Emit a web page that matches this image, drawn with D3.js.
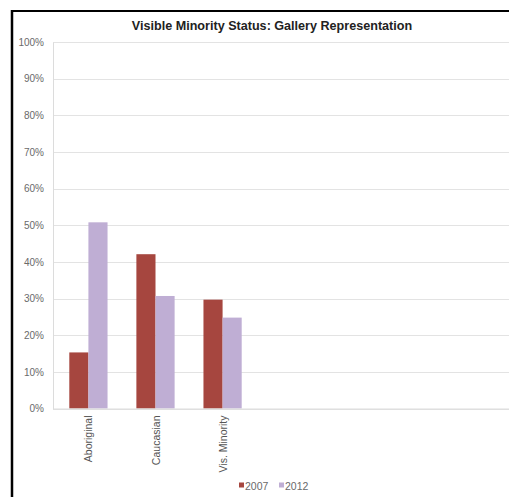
<!DOCTYPE html>
<html>
<head>
<meta charset="utf-8">
<script src="https://cdn.jsdelivr.net/npm/d3@7"></script>
<style>
  html, body { margin: 0; padding: 0; background: #fff; }
  svg { display: block; }
  text { font-family: "Liberation Sans", Arial, Helvetica, sans-serif; }
</style>
</head>
<body>
<div id="chart"></div>
<script>
const categories = ["Aboriginal", "Caucasian", "Vis. Minority"];
const seriesNames = ["2007", "2012"];
const values2007 = [15.3, 42.1, 29.7];
const values2012 = [50.8, 30.7, 24.8];
const yTicks = [0, 10, 20, 30, 40, 50, 60, 70, 80, 90, 100];
const title = "Visible Minority Status: Gallery Representation";
const colors = ["#a6463f", "#bfaed4"];

const W = 509, H = 497;
const svg = d3.select("#chart").append("svg").attr("width", W).attr("height", H);

// frame
svg.append("rect").attr("x", 0).attr("y", 0).attr("width", W).attr("height", H).attr("fill", "#fff");
svg.append("line").attr("x1", 12).attr("x2", 12).attr("y1", 10).attr("y2", H)
  .attr("stroke", "#000").attr("stroke-width", 2.5);
svg.append("line").attr("x1", 11).attr("x2", W).attr("y1", 11).attr("y2", 11)
  .attr("stroke", "#000").attr("stroke-width", 2);

const plotLeft = 53, plotRight = W, plotTop = 42, plotBottom = 408.5;

const y = d3.scaleLinear().domain([0, 100]).range([plotBottom, plotTop]);
const x = d3.scaleBand().domain(categories).range([plotLeft, 258])
  .paddingInner(0.43).paddingOuter(0.243);
const xs = d3.scaleBand().domain(seriesNames).range([0, x.bandwidth()]);

// gridlines
svg.append("g").selectAll("line").data(yTicks).join("line")
  .attr("x1", plotLeft).attr("x2", plotRight)
  .attr("y1", d => Math.round(y(d)) + 0.5).attr("y2", d => Math.round(y(d)) + 0.5)
  .attr("stroke", "#e3e3e3").attr("stroke-width", 1.2);

// y axis
const yAxis = d3.axisLeft(y).tickValues(yTicks).tickFormat(d => d + "%").tickSize(0).tickPadding(9);
const gy = svg.append("g").attr("transform", `translate(${plotLeft},0)`).call(yAxis);
gy.select(".domain").attr("stroke", "#dcdcdc");
gy.selectAll("text").attr("fill", "#6a6a6a").attr("font-size", "10px");

// bars
const groups = svg.append("g").selectAll("g").data(categories).join("g")
  .attr("transform", d => `translate(${x(d)},0)`);
groups.selectAll("rect").data((d, i) => [
    { s: "2007", v: values2007[i], c: colors[0] },
    { s: "2012", v: values2012[i], c: colors[1] }
  ]).join("rect")
  .attr("x", d => xs(d.s)).attr("width", xs.bandwidth())
  .attr("y", d => y(d.v)).attr("height", d => y(0) - y(d.v))
  .attr("fill", d => d.c);

// x axis
const xAxis = d3.axisBottom(x).tickSize(0).tickPadding(0);
const gx = svg.append("g").attr("transform", `translate(0,${plotBottom})`).call(xAxis);
gx.select(".domain").remove();
gx.append("line").attr("x1", plotLeft).attr("x2", plotRight).attr("y1", 0.5).attr("y2", 0.5)
  .attr("stroke", "#dcdcdc");
gx.selectAll(".tick text")
  .attr("fill", "#555").attr("font-size", "10.5px")
  .attr("text-anchor", "end")
  .attr("transform", "translate(4,7) rotate(-90)")
  .attr("dy", "0").attr("y", 0).attr("x", 0);

// title
svg.append("text").attr("x", 272).attr("y", 30).attr("text-anchor", "middle")
  .attr("font-size", "12.6px").attr("font-weight", "bold").attr("fill", "#222").text(title);

// legend
const legend = svg.append("g").attr("transform", "translate(239,481)");
const lx = [0, 40];
seriesNames.forEach((s, i) => {
  legend.append("rect").attr("x", lx[i]).attr("y", 1.5).attr("width", 5).attr("height", 5).attr("fill", colors[i]);
  legend.append("text").attr("x", lx[i] + 6).attr("y", 9).attr("font-size", "10.5px").attr("fill", "#6a6a6a").text(s);
});
</script>
</body>
</html>
